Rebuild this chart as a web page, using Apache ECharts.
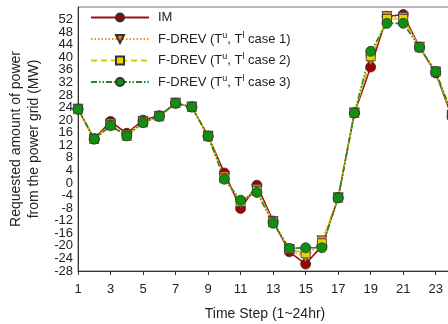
<!DOCTYPE html>
<html>
<head>
<meta charset="utf-8">
<script src="https://cdn.jsdelivr.net/npm/echarts@6/dist/echarts.min.js"></script>
<style>
  html, body { margin: 0; padding: 0; background: #fff; }
  #chart { width: 448px; height: 324px; }
</style>
</head>
<body>
<div id="chart"></div>
<script>
const steps = [1, 2, 3, 4, 5, 6, 7, 8, 9, 10, 11, 12, 13, 14, 15, 16, 17, 18, 19, 20, 21, 22, 23, 24];
const imValues = [23.5, 14, 19.6, 15.8, 20, 21.4, 25.4, 24.2, 14.9, 3.2, -8.1, -0.7, -12.1, -21.9, -25.8, -20, -4.7, 22.3, 36.9, 53, 53.6, 43.2, 35, 21];
const case1Values = [23.5, 14, 18.8, 15.3, 19.6, 21.2, 25.4, 24.2, 14.9, 2, -6.5, -2, -12.3, -21.2, -23.7, -18.4, -4.7, 22.3, 39, 53, 52.7, 43.2, 35.3, 21.5];
const case2Values = [23.5, 14, 18.4, 15, 19.3, 21.2, 25.4, 24.2, 14.9, 1.5, -6, -2.5, -12.5, -21, -22.4, -19.2, -4.7, 22.3, 40.3, 52.2, 52.2, 43.2, 35.4, 21.8];
const case3Values = [23.5, 14, 18.2, 15, 19.2, 21.2, 25.4, 24.2, 14.9, 1.2, -5.5, -3, -12.8, -20.8, -20.6, -20.6, -4.7, 22.3, 41.9, 50.8, 50.8, 43.2, 35.5, 22];
const seriesNames = ['IM', 'case 1', 'case 2', 'case 3'];
const yMin = -28, yMax = 56, yStep = 4;

const font = 'Liberation Sans, Arial, sans-serif';
const pairs = vals => steps.map((s, i) => [s, vals[i]]);

const chart = echarts.init(document.getElementById('chart'));

function makeSeries(name, vals, color, lineType, symbol, markerColor) {
  return {
    name: name,
    type: 'line',
    data: pairs(vals),
    symbol: symbol,
    symbolSize: symbol === 'triangle' ? 10 : (symbol === 'rect' ? 9 : 10),
    symbolRotate: symbol === 'triangle' ? 180 : 0,
    lineStyle: { color: color, width: 1.6, type: lineType },
    itemStyle: { color: markerColor, borderColor: '#333', borderWidth: 0.8 },
    emphasis: { disabled: true },
    animation: false
  };
}

const yLabel = { fontSize: 13, color: '#222', margin: 5, showMaxLabel: false };

chart.setOption({
  backgroundColor: '#fff',
  textStyle: { fontFamily: font },
  grid: {
    left: 78, top: 7, bottom: 53, right: -4,
    containLabel: false, outerBoundsMode: 'none',
    show: true, borderColor: '#777', borderWidth: 1, backgroundColor: 'transparent'
  },
  legend: {
    left: 85, top: 6, orient: 'vertical',
    itemWidth: 58, itemHeight: 10, itemGap: 7,
    data: seriesNames,
    formatter: function (n) {
      if (n === 'IM') return '{n|IM}';
      return '{n|F-DREV (T}{s|u}{n|, T}{s|l}{n| ' + n + ')}';
    },
    textStyle: {
      fontFamily: font, color: '#222', padding: [0, 0, 0, 4],
      rich: {
        n: { fontSize: 13, fontFamily: font, color: '#222' },
        s: { fontSize: 9, fontFamily: font, color: '#222', padding: [0, 0, 7, 0] }
      }
    }
  },
  xAxis: {
    type: 'value', min: 1, max: 24, interval: 2,
    name: 'Time Step (1~24hr)', nameLocation: 'middle', nameGap: 36,
    nameTextStyle: { fontSize: 14, color: '#222', fontFamily: font },
    axisLine: { onZero: false, lineStyle: { color: '#333', width: 1 } },
    axisTick: { show: true, inside: false, length: 4, lineStyle: { color: '#333' } },
    axisLabel: { fontSize: 13, color: '#222', margin: 12, showMaxLabel: false },
    splitLine: { show: false }
  },
  yAxis: [{
    type: 'value', min: yMin, max: yMax, interval: yStep,
    name: 'Requested amount of power\nfrom the power grid (MW)',
    nameLocation: 'middle', nameGap: 35, nameRotate: 90,
    nameTextStyle: { fontSize: 14, color: '#222', fontFamily: font, lineHeight: 18 },
    axisLine: { show: true, onZero: false, lineStyle: { color: '#333', width: 1 } },
    axisTick: { show: false },
    axisLabel: Object.assign({}, yLabel, { showMinLabel: false }),
    splitLine: { show: false }
  }, {
    // second copy only carries the bottom label
    type: 'value', min: yMin, max: yMax, interval: yStep, position: 'left',
    axisLine: { show: false, onZero: false },
    axisTick: { show: false },
    axisLabel: Object.assign({}, yLabel, {
      showMinLabel: true,
      formatter: v => (v === yMin ? String(v) : '')
    }),
    splitLine: { show: false }
  }],
  series: [
    makeSeries('IM', imValues, '#9b1010', 'solid', 'circle', '#a00000'),
    makeSeries('case 1', case1Values, '#ff8c1a', [1.5, 2], 'triangle', '#f08020'),
    makeSeries('case 2', case2Values, '#d4d000', [6, 4], 'rect', '#e0d800'),
    makeSeries('case 3', case3Values, '#208a20', [6, 2, 1.5, 2, 1.5, 2], 'circle', '#109010')
  ]
});
</script>
</body>
</html>
